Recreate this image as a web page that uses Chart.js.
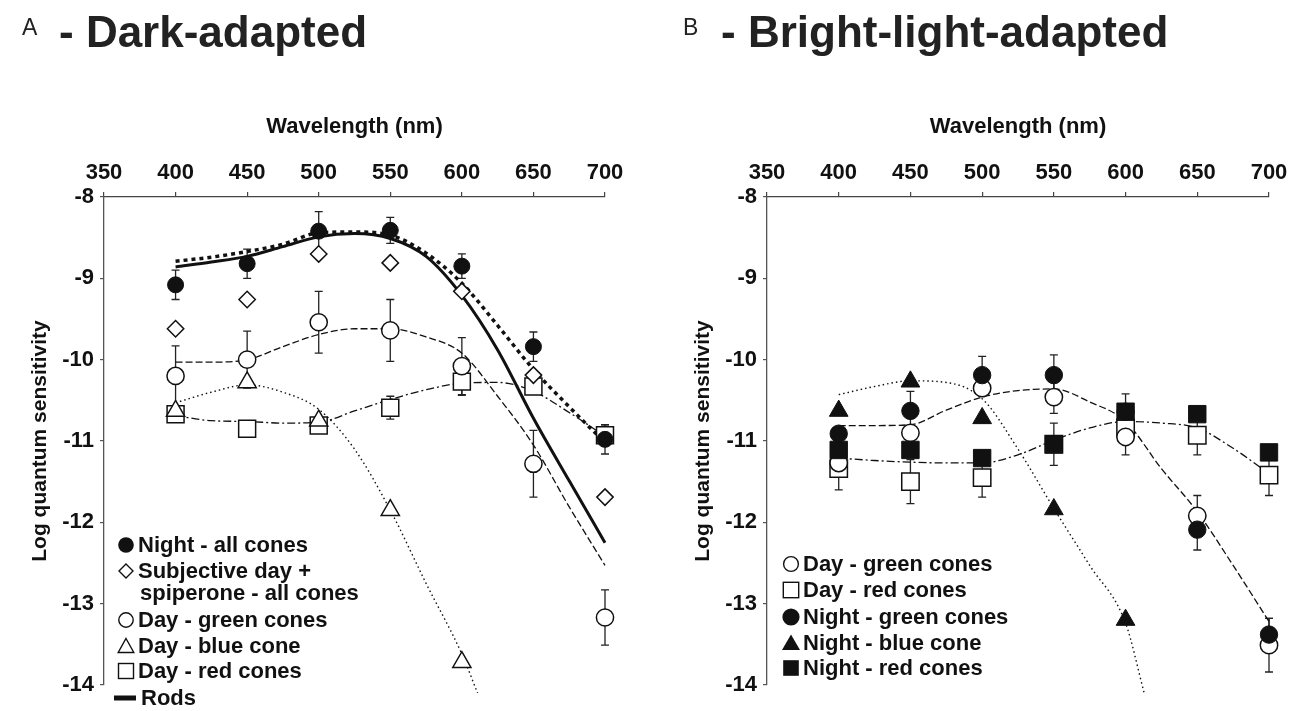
<!DOCTYPE html>
<html>
<head>
<meta charset="utf-8">
<script src="https://cdn.jsdelivr.net/npm/chart.js@4.4.1/dist/chart.umd.min.js"></script>
<style>
html,body{margin:0;padding:0;background:#fff;}
body{width:1300px;height:711px;position:relative;overflow:hidden;font-family:"Liberation Sans",Arial,Helvetica,sans-serif;color:#1a1a1a;}
canvas{position:absolute;top:0;}
#cA{left:0;}
#cB{left:650px;}
.letter{position:absolute;top:16px;font-size:23px;line-height:23px;color:#222;}
.title{position:absolute;top:10px;font-size:44px;line-height:44px;font-weight:bold;color:#222;white-space:nowrap;}
.leg{position:absolute;font-size:22px;font-weight:bold;line-height:26px;height:26px;white-space:nowrap;color:#111;}
.mk{position:absolute;width:20px;height:20px;}
</style>
</head>
<body>
<canvas id="cA" width="650" height="711"></canvas>
<canvas id="cB" width="650" height="711"></canvas>

<div class="letter" style="left:22px;">A</div>
<div class="title" style="left:59px;">- Dark-adapted</div>
<div class="letter" style="left:683px;">B</div>
<div class="title" style="left:721px;">- Bright-light-adapted</div>

<!-- Legend A -->
<svg class="mk" style="left:116px;top:535px;"><circle cx="10" cy="10" r="7.8" fill="#111"/></svg>
<div class="leg" style="left:138px;top:532px;">Night - all cones</div>
<svg class="mk" style="left:116px;top:561px;"><polygon points="10,3 17,10 10,17 3,10" fill="#fff" stroke="#111" stroke-width="1.4"/></svg>
<div class="leg" style="left:138px;top:558px;">Subjective day +</div>
<div class="leg" style="left:140px;top:580px;">spiperone - all cones</div>
<svg class="mk" style="left:116px;top:610px;"><circle cx="10" cy="10" r="7.2" fill="#fff" stroke="#111" stroke-width="1.4"/></svg>
<div class="leg" style="left:138px;top:607px;">Day - green cones</div>
<svg class="mk" style="left:116px;top:636px;"><polygon points="10,2.5 17.8,16.5 2.2,16.5" fill="#fff" stroke="#111" stroke-width="1.4"/></svg>
<div class="leg" style="left:138px;top:633px;">Day - blue cone</div>
<svg class="mk" style="left:116px;top:661px;"><rect x="2.5" y="2.5" width="15" height="15" fill="#fff" stroke="#111" stroke-width="1.4"/></svg>
<div class="leg" style="left:138px;top:658px;">Day - red cones</div>
<svg class="mk" style="left:114px;top:688px;width:24px;"><rect x="0" y="7.5" width="22" height="5" fill="#111"/></svg>
<div class="leg" style="left:141px;top:685px;">Rods</div>

<!-- Legend B -->
<svg class="mk" style="left:781px;top:554px;"><circle cx="10" cy="10" r="7.4" fill="#fff" stroke="#111" stroke-width="1.4"/></svg>
<div class="leg" style="left:803px;top:551px;">Day - green cones</div>
<svg class="mk" style="left:781px;top:580px;"><rect x="2.3" y="2.3" width="15.4" height="15.4" fill="#fff" stroke="#111" stroke-width="1.4"/></svg>
<div class="leg" style="left:803px;top:577px;">Day - red cones</div>
<svg class="mk" style="left:781px;top:607px;"><circle cx="10" cy="10" r="8.6" fill="#111"/></svg>
<div class="leg" style="left:803px;top:604px;">Night - green cones</div>
<svg class="mk" style="left:781px;top:633px;"><polygon points="10,1.5 19,17 1,17" fill="#111"/></svg>
<div class="leg" style="left:803px;top:630px;">Night - blue cone</div>
<svg class="mk" style="left:781px;top:658px;"><rect x="2.2" y="2.2" width="15.6" height="15.6" fill="#111"/></svg>
<div class="leg" style="left:803px;top:655px;">Night - red cones</div>

<script>
// ---------- Data ----------
const wl = [400, 450, 500, 550, 600, 650, 700];
const wlBlue = [400, 450, 500, 550, 600];
const xTicks = [350, 400, 450, 500, 550, 600, 650, 700];
const yTicks = [-8, -9, -10, -11, -12, -13, -14];

// Panel A - dark-adapted
const aNightAll = [-9.08, -8.82, -8.42, -8.41, -8.85, -9.84, -10.98];
const aNightAllErr = [0.18, 0.18, 0.24, 0.16, 0.15, 0.18, 0.18];
const aSubjDay = [-9.62, -9.26, -8.70, -8.81, -9.16, -10.19, -11.69];
const aDayGreen = [-10.20, -10.00, -9.54, -9.64, -10.08, -11.28, -13.17];
const aDayGreenErr = [0.37, 0.35, 0.38, 0.38, 0.35, 0.41, 0.34];
const aDayBlue = [-10.63, -10.28, -10.75, -11.85, -13.72];
const aDayRed = [-10.67, -10.85, -10.81, -10.59, -10.27, -10.33, -10.93];
const aDayRedErr = [0, 0, 0.06, 0.14, 0.17, 0, 0.13];

// fitted curves (read at 25 nm steps)
const fitNm = [400, 425, 450, 475, 500, 525, 550, 575, 600, 625, 650, 675, 700];
const aRods = [-8.86, -8.80, -8.73, -8.61, -8.49, -8.45, -8.51, -8.73, -9.21, -9.88, -10.72, -11.49, -12.25];
const aNightFit = [-8.79, -8.74, -8.67, -8.58, -8.44, -8.43, -8.47, -8.69, -9.06, -9.58, -10.12, -10.58, -11.02];
const aGreenFit = [-10.03, -10.03, -10.00, -9.84, -9.69, -9.62, -9.62, -9.72, -9.92, -10.45, -11.05, -11.81, -12.53];
const aBlueNm = [400, 425, 450, 475, 500, 525, 550, 575, 600, 611];
const aBlueFit = [-10.53, -10.40, -10.31, -10.40, -10.61, -11.10, -11.85, -12.75, -13.62, -14.10];
const aRedFit = [-10.69, -10.75, -10.76, -10.78, -10.77, -10.63, -10.49, -10.37, -10.29, -10.28, -10.39, -10.65, -10.94];

// Panel B - bright-light-adapted
const bDayGreen = [-11.27, -10.90, -10.35, -10.46, -10.95, -11.92, -13.51];
const bDayGreenErr = [0, 0, 0, 0.20, 0.22, 0.25, 0.33];
const bDayRed = [-11.34, -11.50, -11.45, -11.04, -10.84, -10.93, -11.42];
const bDayRedErr = [0.26, 0.27, 0.24, 0, 0, 0.24, 0.25];
const bNightGreen = [-10.91, -10.63, -10.19, -10.19, -10.64, -12.09, -13.38];
const bNightGreenErr = [0, 0.24, 0.23, 0.25, 0, 0.25, 0.20];
const bNightBlue = [-10.63, -10.27, -10.72, -11.84, -13.20];
const bNightRed = [-11.11, -11.11, -11.21, -11.04, -10.64, -10.67, -11.14];
const bNightRedErr = [0, 0, 0, 0.26, 0.22, 0, 0];

const bBlueNm = [400, 425, 450, 475, 500, 525, 550, 575, 600, 613];
const bBlueFit = [-10.43, -10.33, -10.26, -10.28, -10.48, -11.10, -11.83, -12.53, -13.24, -14.10];
const bGreenFit = [-10.81, -10.81, -10.80, -10.62, -10.46, -10.38, -10.36, -10.52, -10.76, -11.34, -11.87, -12.53, -13.22];
const bRedFit = [-11.21, -11.24, -11.26, -11.27, -11.27, -11.17, -10.99, -10.84, -10.76, -10.78, -10.84, -11.09, -11.40];

// ---------- helpers ----------
const pts = (xs, ys) => xs.map((x, i) => ({x: x, y: ys[i]}));
const INK = '#111';

function markerSet(xs, ys, errs, style, radius, filled) {
  return {
    data: pts(xs, ys), errors: errs || null, showLine: false,
    pointStyle: style, pointRadius: radius, pointHoverRadius: radius,
    pointBackgroundColor: filled ? INK : '#fff', pointBorderColor: INK,
    pointBorderWidth: filled ? 1 : 1.5, clip: false, order: 1
  };
}
function fitLine(xs, ys, width, dash) {
  return {
    data: pts(xs, ys), showLine: true, pointRadius: 0, pointHoverRadius: 0,
    borderColor: INK, borderWidth: width, borderDash: dash, borderCapStyle: 'butt',
    cubicInterpolationMode: 'monotone', fill: false, clip: 8, order: 5
  };
}

const errorBars = {
  id: 'errorBars',
  beforeDatasetsDraw(chart) {
    const ctx = chart.ctx, xs = chart.scales.x, ys = chart.scales.y;
    ctx.save();
    ctx.strokeStyle = '#222';
    ctx.lineWidth = 1.3;
    chart.data.datasets.forEach(ds => {
      if (!ds.errors) return;
      ds.data.forEach((p, j) => {
        const e = ds.errors[j];
        if (!e) return;
        const x = xs.getPixelForValue(p.x);
        const y1 = ys.getPixelForValue(p.y + e);
        const y2 = ys.getPixelForValue(p.y - e);
        ctx.beginPath();
        ctx.moveTo(x, y1); ctx.lineTo(x, y2);
        ctx.moveTo(x - 4, y1); ctx.lineTo(x + 4, y1);
        ctx.moveTo(x - 4, y2); ctx.lineTo(x + 4, y2);
        ctx.stroke();
      });
    });
    ctx.restore();
  }
};

Chart.defaults.font.family = '"Liberation Sans", Arial, Helvetica, sans-serif';
Chart.defaults.color = INK;

function makeOptions(yWidth, yTitlePad, rightPad) {
  return {
    responsive: false, animation: false,
    layout: {padding: {left: 0, right: rightPad, top: 100, bottom: 26}},
    plugins: {legend: {display: false}, tooltip: {enabled: false}},
    scales: {
      x: {
        type: 'linear', position: 'top', min: 350, max: 700,
        afterFit: s => { s.height = 97; },
        afterBuildTicks: s => { s.ticks = xTicks.map(v => ({value: v})); },
        ticks: {font: {size: 22, weight: 'bold'}, padding: 6, color: INK},
        grid: {drawOnChartArea: false, drawTicks: true, tickLength: 5, color: '#444', lineWidth: 1.2},
        border: {display: true, color: '#444', width: 1.3},
        title: {display: true, text: 'Wavelength (nm)', font: {size: 22, weight: 'bold'}, padding: {top: 14, bottom: 0}, color: INK}
      },
      y: {
        type: 'linear', position: 'left', min: -14, max: -8,
        afterFit: s => { s.width = yWidth; },
        afterBuildTicks: s => { s.ticks = yTicks.map(v => ({value: v})); },
        ticks: {font: {size: 22, weight: 'bold'}, padding: 6, color: INK},
        grid: {drawOnChartArea: false, drawTicks: true, tickLength: 4, color: '#555', lineWidth: 1.2},
        border: {display: true, color: '#555', width: 1.3},
        title: {display: true, text: 'Log quantum sensitivity', font: {size: 21, weight: 'bold'}, padding: {top: yTitlePad, bottom: 0}, color: INK}
      }
    }
  };
}

// ---------- Panel A ----------
new Chart(document.getElementById('cA'), {
  type: 'scatter',
  data: {
    datasets: [
      Object.assign(markerSet(wl, aNightAll, aNightAllErr, 'circle', 8, true), {label: 'Night - all cones'}),
      Object.assign(markerSet(wl, aSubjDay, null, 'rectRot', 8.2, false), {label: 'Subjective day + spiperone - all cones'}),
      Object.assign(markerSet(wl, aDayGreen, aDayGreenErr, 'circle', 8.6, false), {label: 'Day - green cones'}),
      Object.assign(markerSet(wlBlue, aDayBlue, null, 'triangle', 10.5, false), {label: 'Day - blue cone'}),
      Object.assign(markerSet(wl, aDayRed, aDayRedErr, 'rect', 12, false), {label: 'Day - red cones'}),
      Object.assign(fitLine(fitNm, aRods, 3, []), {label: 'Rods'}),
      Object.assign(fitLine(fitNm, aNightFit, 3.5, [4, 4]), {label: 'Night - all cones fit'}),
      Object.assign(fitLine(fitNm, aGreenFit, 1.3, [7, 3]), {label: 'Day - green cones fit'}),
      Object.assign(fitLine(aBlueNm, aBlueFit, 1.4, [1.5, 3]), {label: 'Day - blue cone fit'}),
      Object.assign(fitLine(fitNm, aRedFit, 1.3, [8, 3, 2, 3]), {label: 'Day - red cones fit'})
    ]
  },
  options: makeOptions(104, 27.4, 45),
  plugins: [errorBars]
});

// ---------- Panel B ----------
new Chart(document.getElementById('cB'), {
  type: 'scatter',
  data: {
    datasets: [
      Object.assign(markerSet(wlBlue, bNightBlue, null, 'triangle', 10.8, true), {label: 'Night - blue cone'}),
      Object.assign(markerSet(wl, bNightGreen, bNightGreenErr, 'circle', 8.7, true), {label: 'Night - green cones'}),
      Object.assign(markerSet(wl, bNightRed, bNightRedErr, 'rect', 12.3, true), {label: 'Night - red cones'}),
      Object.assign(markerSet(wl, bDayGreen, bDayGreenErr, 'circle', 8.7, false), {label: 'Day - green cones'}),
      Object.assign(markerSet(wl, bDayRed, bDayRedErr, 'rect', 12.3, false), {label: 'Day - red cones'}),
      Object.assign(fitLine(fitNm, bGreenFit, 1.3, [7, 3]), {label: 'green cones fit'}),
      Object.assign(fitLine(bBlueNm, bBlueFit, 1.4, [1.5, 3]), {label: 'blue cone fit'}),
      Object.assign(fitLine(fitNm, bRedFit, 1.3, [8, 3, 2, 3]), {label: 'red cones fit'})
    ]
  },
  options: makeOptions(117, 40.4, 31),
  plugins: [errorBars]
});
</script>
</body>
</html>
